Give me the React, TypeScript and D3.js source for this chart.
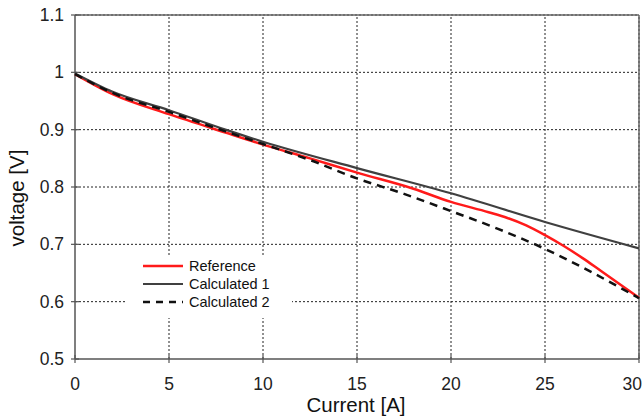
import React from 'react';
import * as d3 from 'd3';

// Current [A] sample points
const refCurrent = [0, 2, 5, 8, 10, 12.5, 15, 18, 20, 22, 23, 24, 25, 26, 27, 28, 29, 30];
const refVoltage = [0.997, 0.962, 0.927, 0.895, 0.874, 0.85, 0.825, 0.797, 0.774, 0.756, 0.746, 0.733, 0.716, 0.697, 0.676, 0.653, 0.63, 0.607];

const calc1Current = [0, 2, 5, 8, 10, 15, 20, 25, 30];
const calc1Voltage = [0.998, 0.966, 0.934, 0.9, 0.879, 0.833, 0.789, 0.739, 0.693];

const calc2Current = [0, 2, 5, 8, 10, 12.5, 15, 17.5, 20, 22.5, 25, 27.5, 30];
const calc2Voltage = [0.997, 0.964, 0.931, 0.897, 0.875, 0.847, 0.815, 0.788, 0.758, 0.727, 0.692, 0.651, 0.606];

const xTicks = [0, 5, 10, 15, 20, 25, 30];
const yTicks = [0.5, 0.6, 0.7, 0.8, 0.9, 1.0, 1.1];

const seriesNames = ['Reference', 'Calculated 1', 'Calculated 2'];

const W = 643;
const H = 419;
const margin = { top: 15, right: 4, bottom: 60, left: 75 };
const font = '"Liberation Sans", Arial, sans-serif';

export default function App() {
  const x = d3.scaleLinear().domain([0, 30]).range([margin.left, W - margin.right]);
  const y = d3.scaleLinear().domain([0.5, 1.1]).range([H - margin.bottom, margin.top]);

  const line = d3.line<[number, number]>()
    .x(d => x(d[0]))
    .y(d => y(d[1]))
    .curve(d3.curveMonotoneX);

  const series = [
    { name: seriesNames[0], pts: refCurrent.map((c, i) => [c, refVoltage[i]] as [number, number]), color: '#ff1a1a', dash: '', w: 2.5 },
    { name: seriesNames[1], pts: calc1Current.map((c, i) => [c, calc1Voltage[i]] as [number, number]), color: '#404040', dash: '', w: 2.2 },
    { name: seriesNames[2], pts: calc2Current.map((c, i) => [c, calc2Voltage[i]] as [number, number]), color: '#111', dash: '8,6', w: 2.5 },
  ];

  const [x0, x1] = x.range();
  const [y0, y1] = y.range();
  const fmt = (v: number) => String(+v.toFixed(1));

  return (
    <svg width={W} height={H} style={{ position: 'absolute', left: 0, top: 0 }} fontFamily={font}>
      <rect width={W} height={H} fill="#fff" />
      {/* grid */}
      {xTicks.slice(1).map(t => (
        <line key={'gx' + t} x1={x(t)} x2={x(t)} y1={y0} y2={y1} stroke="#222" strokeWidth={1} strokeDasharray="2,2" />
      ))}
      {yTicks.slice(1).map(t => (
        <line key={'gy' + t} x1={x0} x2={x1} y1={y(t)} y2={y(t)} stroke="#222" strokeWidth={1} strokeDasharray="2,2" />
      ))}
      {/* frame */}
      <line x1={x1} x2={x1} y1={y0} y2={y1} stroke="#666" strokeWidth={1.5} />
      <line x1={x0} x2={x1} y1={y1} y2={y1} stroke="#666" strokeWidth={1.5} />
      <line x1={x0} x2={x0} y1={y0} y2={y1} stroke="#555" strokeWidth={1.5} />
      <line x1={x0} x2={x1} y1={y0} y2={y0} stroke="#555" strokeWidth={1.5} />
      {/* ticks */}
      {xTicks.map((t, i) => (
        <g key={'tx' + t}>
          <line x1={x(t)} x2={x(t)} y1={y0 - 4} y2={y0 + 4} stroke="#555" strokeWidth={1.2} />
          <text x={i === xTicks.length - 1 ? W - 1 : x(t)} y={y0 + 31}
            textAnchor={i === xTicks.length - 1 ? 'end' : 'middle'} fontSize={17.5} fill="#222">{t}</text>
        </g>
      ))}
      {yTicks.map(t => (
        <g key={'ty' + t}>
          <line x1={x0 - 4} x2={x0 + 4} y1={y(t)} y2={y(t)} stroke="#555" strokeWidth={1.2} />
          <text x={x0 - 11} y={y(t) + 6} textAnchor="end" fontSize={17.5} fill="#222">{fmt(t)}</text>
        </g>
      ))}
      {/* series */}
      {series.map(s => (
        <path key={s.name} d={line(s.pts) || ''} fill="none" stroke={s.color} strokeWidth={s.w} strokeDasharray={s.dash || undefined} />
      ))}
      {/* legend */}
      <g>
        <rect x={125} y={256} width={167} height={62} fill="#fff" />
        {series.map((s, i) => (
          <g key={'lg' + s.name} transform={`translate(143, ${266 + i * 18})`}>
            <line x1={0} x2={40} y1={0} y2={0} stroke={s.color} strokeWidth={s.w} strokeDasharray={s.dash ? '7,6' : undefined} />
            <text x={46} y={5} fontSize={14.5} fill="#111">{s.name}</text>
          </g>
        ))}
      </g>
      {/* axis titles */}
      <text x={356} y={412} textAnchor="middle" fontSize={20.5} fill="#111">Current [A]</text>
      <text transform={`translate(24, 198) rotate(-90)`} textAnchor="middle" fontSize={20.5} fill="#111">voltage [V]</text>
    </svg>
  );
}
